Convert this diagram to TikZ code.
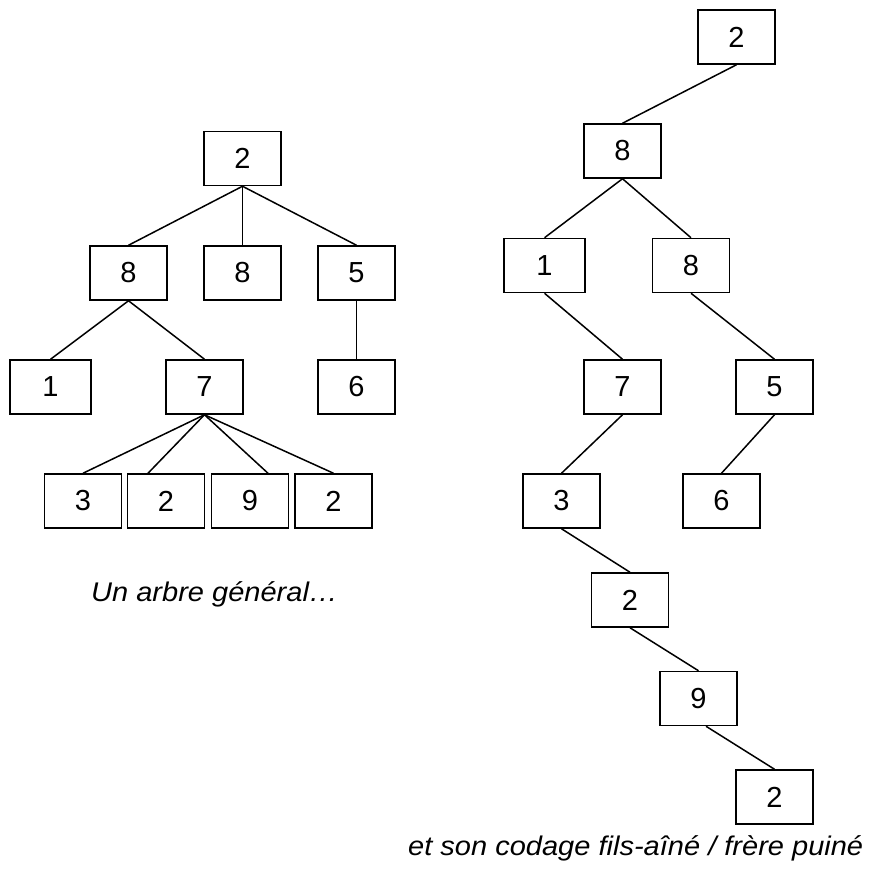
\documentclass[tikz,border=0pt]{standalone}
\usepackage{fontspec}
\setmainfont{Liberation Sans}
\usetikzlibrary{calc}
\newcommand{\capwide}[1]{\scalebox{1.075}[1]{#1}}
\begin{document}
\begin{tikzpicture}[x=1pt,y=-1pt,
  cell/.style={draw=black, line width=1.5pt, minimum width=77pt, minimum height=54pt,
    inner sep=0pt, font=\fontsize{29}{31}\selectfont},
  widecell/.style={cell, minimum width=81pt},
  edge/.style={draw=black, line width=1.5pt},
  caption/.style={anchor=base west, inner sep=0pt, font=\fontsize{27}{30}\selectfont\itshape}]
\useasboundingbox (0,0) rectangle (871,876);

% general tree
\node[cell]     (r) at (242.5,158.5) {2};
\node[cell]     (a) at (128.5,273) {8};
\node[cell]     (b) at (242.5,273) {8};
\node[cell]     (c) at (356.5,273) {5};
\node[widecell] (d) at (50.5,387) {1};
\node[cell]     (e) at (204.5,387) {7};
\node[cell]     (f) at (356.5,387) {6};
\node[cell]     (g) at (83,501) {3};
\node[cell]     (h) at (166,501) {2};
\node[cell]     (i) at (250,501) {9};
\node[cell]     (j) at (333.5,501) {2};

\draw[edge] (r.south) -- (a.north);
\draw[edge] (r.south) -- (b.north);
\draw[edge] (r.south) -- (c.north);
\draw[edge] (a.south) -- (d.north);
\draw[edge] (a.south) -- (e.north);
\draw[edge] (c.south) -- (f.north);
\draw[edge] (e.south) -- (g.north);
\draw[edge] (e.south) -- ($(h.north)+(-18,0)$);
\draw[edge] (e.south) -- ($(i.north)+(18,0)$);
\draw[edge] (e.south) -- (j.north);

\node[caption] (capA) at (91,601) {\capwide{Un arbre général…}};

% first-child / next-sibling binary encoding
\node[cell]     (q2)  at (736.5,37) {2};
\node[cell]     (q8)  at (622.5,151) {8};
\node[widecell] (q1)  at (544.5,265.5) {1};
\node[cell]     (q8b) at (691,265.5) {8};
\node[cell]     (q7)  at (622.5,387) {7};
\node[cell]     (q5)  at (774.5,387) {5};
\node[cell]     (q3)  at (561.5,501) {3};
\node[cell]     (q6)  at (721.5,501) {6};
\node[cell]     (q2b) at (630,600) {2};
\node[cell]     (q9)  at (698.5,698.5) {9};
\node[cell]     (q2c) at (774.5,797) {2};

\draw[edge] (q2.south)  -- (q8.north);
\draw[edge] (q8.south)  -- (q1.north);
\draw[edge] (q8.south)  -- (q8b.north);
\draw[edge] (q1.south)  -- (q7.north);
\draw[edge] (q8b.south) -- (q5.north);
\draw[edge] (q7.south)  -- (q3.north);
\draw[edge] (q5.south)  -- (q6.north);
\draw[edge] (q3.south)  -- (q2b.north);
\draw[edge] (q2b.south) -- (q9.north);
\draw[edge] ($(q9.south)+(7.5,0)$) -- (q2c.north);

\node[caption] (capB) at (408,855) {\capwide{et son codage fils-aîné / frère puiné}};
\end{tikzpicture}
\end{document}
